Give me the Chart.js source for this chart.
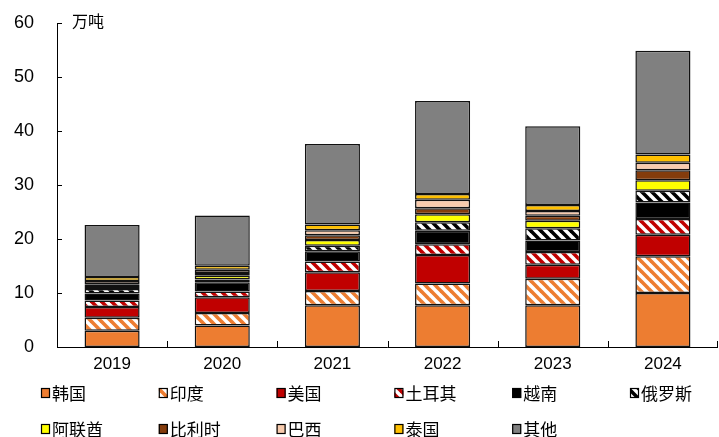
<!DOCTYPE html>
<html>
<head>
<meta charset="utf-8">
<script src="https://cdn.jsdelivr.net/npm/chart.js@4/dist/chart.umd.min.js"></script>
<style>
  html, body { margin: 0; padding: 0; background: #fff; }
  #wrap { width: 719px; height: 437px; position: relative; }
</style>
</head>
<body>
<div id="wrap"><canvas id="chart" width="719" height="437"></canvas></div>
<script>
// 年份
var years = ["2019", "2020", "2021", "2022", "2023", "2024"];

// 各国数量（万吨）
var hanguo   = [3.0, 4.0, 7.75, 7.75, 7.75, 10.0];
var yindu    = [2.4, 2.3, 2.6, 4.0, 4.9, 6.8];
var meiguo   = [2.0, 2.9, 3.5, 5.3, 2.6, 4.0];
var tuerqi   = [1.2, 1.1, 2.0, 2.0, 2.35, 2.9];
var yuenan   = [1.3, 1.7, 1.9, 2.5, 2.1, 3.05];
var eluosi   = [0.85, 0.5, 1.0, 1.55, 2.3, 2.2];
var alianqiu = [0.35, 0.7, 1.05, 1.5, 1.4, 1.95];
var bilishi  = [0.5, 0.5, 0.9, 1.1, 0.9, 1.85];
var baxi     = [0.6, 0.6, 0.9, 1.55, 0.9, 1.35];
var taiguo   = [0.75, 0.75, 1.1, 1.1, 1.1, 1.55];
var qita     = [9.65, 9.3, 14.9, 17.2, 14.6, 19.2];

var yTicks = [0, 10, 20, 30, 40, 50, 60];

function hatch(color){
    var p = 10;
    var c = document.createElement("canvas");
    c.width = p; c.height = p;
    var g = c.getContext("2d");
    g.fillStyle = "#fff";
    g.fillRect(0, 0, p, p);
    g.strokeStyle = color;
    g.lineWidth = 3.6;
    for(var k = -1; k <= 1; k++){
        g.beginPath();
        g.moveTo(k * p - 2, -2);
        g.lineTo(k * p + p + 2, p + 2);
        g.stroke();
    }
    return g.createPattern(c, "repeat");
}

var series = [
    { label: "韩国", data: hanguo, fill: "#ED7D31" },
    { label: "印度", data: yindu, fill: hatch("#ED7D31") },
    { label: "美国", data: meiguo, fill: "#C00000" },
    { label: "土耳其", data: tuerqi, fill: hatch("#C00000") },
    { label: "越南", data: yuenan, fill: "#000000" },
    { label: "俄罗斯", data: eluosi, fill: hatch("#000000") },
    { label: "阿联酋", data: alianqiu, fill: "#FFFF00" },
    { label: "比利时", data: bilishi, fill: "#843C0C" },
    { label: "巴西", data: baxi, fill: "#F8CBAD" },
    { label: "泰国", data: taiguo, fill: "#FFC000" },
    { label: "其他", data: qita, fill: "#808080" }
];

var datasets = series.map(function(s){
    return {
        label: s.label,
        data: s.data,
        backgroundColor: s.fill,
        borderColor: "#111",
        borderWidth: 1.5,
        borderSkipped: false,
        categoryPercentage: 1.0,
        barPercentage: 0.5
    };
});

var FONT = "'Liberation Sans', Arial, 'Noto Sans CJK SC', sans-serif";
var CJK = "'Noto Sans CJK SC', 'Liberation Sans', sans-serif";

// 坐标轴向内的刻度线、单位和图例
var extras = {
    id: "extras",
    afterDraw: function(chart){
        var ctx = chart.ctx;
        var a = chart.chartArea;
        var y = chart.scales.y;
        var x = chart.scales.x;
        ctx.save();
        ctx.strokeStyle = "#000";
        ctx.lineWidth = 1;
        ctx.beginPath();
        ctx.moveTo(a.left + 0.5, a.top);
        ctx.lineTo(a.left + 0.5, a.bottom + 0.5);
        ctx.lineTo(a.right, a.bottom + 0.5);
        yTicks.forEach(function(v){
            var py = Math.round(y.getPixelForValue(v)) + 0.5;
            ctx.moveTo(a.left, py);
            ctx.lineTo(a.left + 5, py);
        });
        var half = (x.getPixelForValue(1) - x.getPixelForValue(0)) / 2;
        for(var i = 1; i <= years.length; i++){
            var px = Math.min(Math.round(x.getPixelForValue(i - 1) + half) + 0.5, a.right - 0.5);
            ctx.moveTo(px, a.bottom);
            ctx.lineTo(px, a.bottom - 6);
        }
        ctx.stroke();

        ctx.fillStyle = "#000";
        ctx.font = "16px " + CJK;
        ctx.textAlign = "left";
        ctx.textBaseline = "middle";
        ctx.fillText("万吨", 72, 21);

        // 图例：两行六列
        var colW = 117.8, x0 = 41, rows = [393, 429];
        ctx.font = "17px " + CJK;
        series.forEach(function(s, i){
            var cx = x0 + (i % 6) * colW;
            var cy = rows[Math.floor(i / 6)];
            ctx.fillStyle = s.fill;
            ctx.fillRect(cx, cy - 5, 9, 10);
            ctx.strokeStyle = "#000";
            ctx.lineWidth = 1.2;
            ctx.strokeRect(cx + 0.5, cy - 4.5, 8, 9);
            ctx.fillStyle = "#000";
            ctx.fillText(s.label, cx + 11, cy + 1);
        });
        ctx.restore();
    }
};

new Chart(document.getElementById("chart"), {
    type: "bar",
    data: { labels: years, datasets: datasets },
    options: {
        responsive: false,
        animation: false,
        layout: { padding: { left: 0, right: 1, top: 23, bottom: 60 } },
        plugins: {
            legend: { display: false },
            tooltip: { enabled: false }
        },
        scales: {
            x: {
                stacked: true,
                border: { display: false },
                grid: { display: false, drawTicks: false },
                ticks: { color: "#000", font: { size: 17, family: FONT }, padding: 7 },
                afterFit: function(s){ s.height = 30; }
            },
            y: {
                stacked: true,
                min: 0,
                max: 60,
                border: { display: false },
                grid: { display: false, drawTicks: false },
                afterBuildTicks: function(s){ s.ticks = yTicks.map(function(v){ return { value: v }; }); },
                ticks: { color: "#000", font: { size: 18, family: FONT }, padding: 23 },
                afterFit: function(s){
                    s.width = 57;
                    s.paddingTop = 0;
                    s.paddingBottom = 0;
                }
            }
        }
    },
    plugins: [extras]
});
</script>
</body>
</html>
